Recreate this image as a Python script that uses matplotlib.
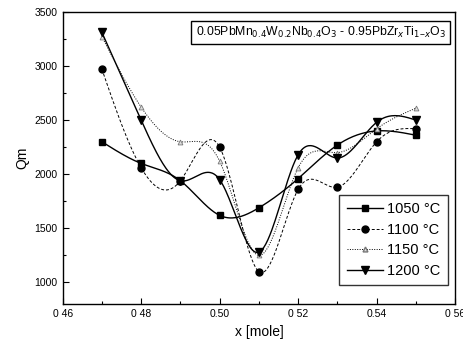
import numpy as np
from matplotlib import pyplot as plt

x = [0.47, 0.48, 0.49, 0.50, 0.51, 0.52, 0.53, 0.54, 0.55]
qm_1050 = [2300, 2100, 1940, 1620, 1690, 1960, 2270, 2400, 2360]
qm_1100 = [2970, 2060, 1940, 2250, 1100, 1860, 1880, 2300, 2420]
qm_1150 = [3270, 2620, 2300, 2120, 1250, 2060, 2200, 2420, 2610]
qm_1200 = [3310, 2500, 1940, 1950, 1280, 2180, 2150, 2480, 2500]


def spline(xs, ys, n=300):
    # natural cubic spline, just for drawing the smooth curve
    xs = np.asarray(xs, float)
    ys = np.asarray(ys, float)
    m = len(xs)
    h = np.diff(xs)
    A = np.zeros((m, m))
    b = np.zeros(m)
    A[0, 0] = 1
    A[-1, -1] = 1
    for i in range(1, m - 1):
        A[i, i - 1] = h[i - 1]
        A[i, i] = 2 * (h[i - 1] + h[i])
        A[i, i + 1] = h[i]
        b[i] = 3 * ((ys[i + 1] - ys[i]) / h[i] - (ys[i] - ys[i - 1]) / h[i - 1])
    c = np.linalg.solve(A, b)
    xx = np.linspace(xs[0], xs[-1], n)
    yy = np.zeros(n)
    for k, t in enumerate(xx):
        i = min(np.searchsorted(xs, t, side='right') - 1, m - 2)
        d = t - xs[i]
        bi = (ys[i + 1] - ys[i]) / h[i] - h[i] * (2 * c[i] + c[i + 1]) / 3
        di = (c[i + 1] - c[i]) / (3 * h[i])
        yy[k] = ys[i] + bi * d + c[i] * d ** 2 + di * d ** 3
    return xx, yy


plt.rcParams['font.family'] = ['Liberation Sans', 'DejaVu Sans']
fig = plt.figure(figsize=(4.64, 3.48), dpi=100)
ax = fig.add_axes([0.135, 0.126, 0.846, 0.840])

series = [
    (qm_1050, 's', '-', 1.0, 5, '1050 °C'),
    (qm_1100, 'o', (0, (3, 2)), 0.7, 5, '1100 °C'),
    (qm_1150, '^', (0, (1, 1.5)), 0.7, 3.5, '1150 °C'),
    (qm_1200, 'v', '-', 1.0, 6, '1200 °C'),
]
for ys, mk, ls, lw, ms, lab in series:
    xx, yy = spline(x, ys)
    ax.plot(xx, yy, color='black', linestyle=ls, linewidth=lw)
    if mk == '^':
        ax.plot(x, ys, linestyle='none', marker=mk, markersize=ms,
                markerfacecolor='#dddddd', markeredgecolor='#777777', markeredgewidth=0.6)
        ax.plot([], [], color='black', linestyle=ls, linewidth=lw, marker=mk,
                markersize=ms, markerfacecolor='#dddddd', markeredgecolor='#777777', label=lab)
    else:
        ax.plot(x, ys, linestyle='none', marker=mk, markersize=ms, color='black')
        ax.plot([], [], color='black', linestyle=ls, linewidth=lw, marker=mk,
                markersize=ms, label=lab)

ax.set_xlim(0.46, 0.56)
ax.set_ylim(800, 3500)
ax.set_xticks([0.46, 0.48, 0.50, 0.52, 0.54, 0.56])
ax.set_xticklabels(['0 46', '0 48', '0.50', '0 52', '0.54', '0 56'])
ax.set_xticks(np.arange(0.47, 0.56, 0.02), minor=True)
ax.set_yticks([1000, 1500, 2000, 2500, 3000, 3500])
ax.set_yticks(np.arange(1250, 3500, 500), minor=True)
ax.tick_params(direction='in', labelsize=7.5, length=4, width=0.8)
ax.tick_params(which='minor', direction='in', length=2.5, width=0.8)
for s in ax.spines.values():
    s.set_linewidth(1.0)

ax.set_xlabel('x [mole]', fontsize=10)
ax.set_ylabel('Qm', fontsize=10)

ax.text(0.975, 0.955,
        '0.05PbMn$_{0.4}$W$_{0.2}$Nb$_{0.4}$O$_3$ - 0.95PbZr$_x$Ti$_{1\\mathregular{-}x}$O$_3$',
        transform=ax.transAxes, ha='right', va='top', fontsize=8.8,
        bbox=dict(boxstyle='square,pad=0.35', facecolor='white', edgecolor='black', linewidth=1.0))

leg = ax.legend(loc='lower right', fontsize=10.5, frameon=True, fancybox=False,
                edgecolor='black', handlelength=2.5, borderpad=0.5,
                labelspacing=0.45, handletextpad=0.3, bbox_to_anchor=(1.0, 0.04))
leg.get_frame().set_linewidth(1.0)

plt.savefig('out.png', dpi=100)
